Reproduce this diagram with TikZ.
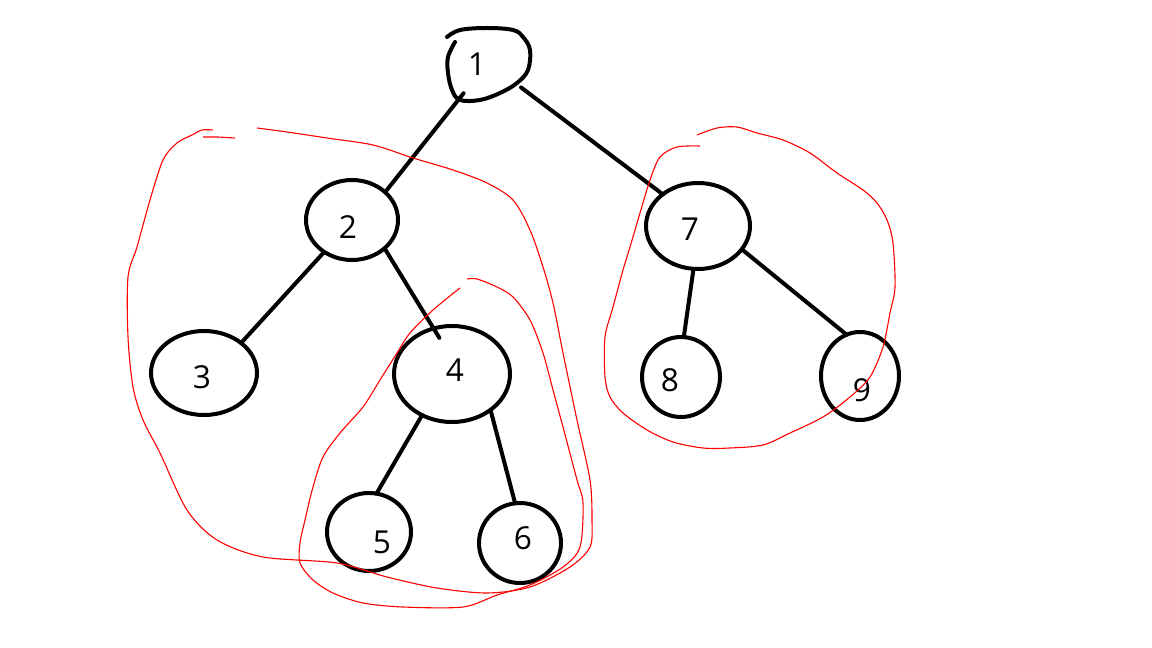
\documentclass[tikz,border=0pt]{standalone}
\usepackage{fontspec}
\setmainfont{Open Sans}
\newdimen\upx \upx=0.02cm
\tikzset{
  vertex/.style={draw=black, line width=4\upx, ellipse, inner sep=0pt, outer sep=0pt},
  ghost/.style={ellipse, inner sep=0pt, outer sep=0pt},
  digit/.style={inner sep=0pt, font=\fontsize{18}{20}\selectfont},
  edge/.style={draw=black, line width=4\upx, line cap=round},
  loop/.style={draw=red, line width=1.1\upx}
}
\usetikzlibrary{shapes.geometric}
\begin{document}
\begin{tikzpicture}[x=0.02cm, y=-0.02cm]
\useasboundingbox (0,0) rectangle (1152,648);
\fill[white] (0,0) rectangle (1152,648);

% node 1 (hand drawn blob)
\node[ghost, minimum width=82\upx, minimum height=72\upx] (n1) at (489,65) {};
\draw[line width=4\upx, line cap=round, line join=round] plot[smooth, tension=0.6] coordinates {
 (447,37) (460,30) (487,28) (513,30) (523,37) (530,50) (528,70) (517,83) (500,93) (480,100) (460,100) (452,90) (448,73) (448,57) (455,42)};
\node[digit] (t1) at (477,64) {1};

% other vertices
\node[vertex, minimum width=92\upx, minimum height=80\upx] (n2) at (352,220) {};
\node[vertex, minimum width=106\upx, minimum height=84\upx] (n3) at (204,373) {};
\node[vertex, minimum width=116\upx, minimum height=96\upx] (n4) at (452,374) {};
\node[vertex, minimum width=84\upx, minimum height=78\upx] (n5) at (369,532) {};
\node[vertex, minimum width=82\upx, minimum height=80\upx] (n6) at (520,543) {};
\node[vertex, minimum width=104\upx, minimum height=86\upx] (n7) at (698,226) {};
\node[vertex, minimum width=78\upx, minimum height=80\upx] (n8) at (681,377) {};
\node[vertex, minimum width=78\upx, minimum height=88\upx] (n9) at (860,376) {};

\node[digit] (t2) at (348,227) {2};
\node[digit] (t3) at (202,377) {3};
\node[digit] (t4) at (455,370) {4};
\node[digit] (t5) at (382,542) {5};
\node[digit] (t6) at (523,538) {6};
\node[digit] (t7) at (690,229) {7};
\node[digit] (t8) at (670,380) {8};
\node[digit] (t9) at (862,390) {9};

% edges
\draw[edge] (n1.-132) -- (n2.40);
\draw[edge] (n1.-35) -- (n7.138);
\draw[edge] (n2.-131) -- (n3.39);
\draw[edge, shorten >=-11\upx] (n2.-41) -- (n4.112);
\draw[edge] (n4.-126) -- (n5.79);
\draw[edge] (n4.-43) -- (n6.97);
\draw[edge] (n7.-96) -- (n8.86);
\draw[edge] (n7.-28) -- (n9.108);

% red loops
\draw[loop] plot[smooth, tension=0.5] coordinates {
 (257,128) (287,132) (327,138) (373,145) (413,158) (453,170) (487,183) (513,200) (530,230)
 (543,267) (553,303) (563,353) (577,420) (590,480) (592,520) (590,547) (570,567) (530,587)
 (487,593) (437,588) (387,577) (337,563) (263,557) (217,540) (187,510) (160,453) (143,420)
 (133,387) (128,337) (128,277) (137,247) (150,200) (163,160) (177,143) (192,135) (202,130) (213,130)};
\draw[loop] (203,137) -- (218,137) -- (235,138);

\draw[loop] plot[smooth, tension=0.5] coordinates {
 (460,288) (433,310) (410,333) (397,353) (380,380) (363,407) (340,433) (323,457) (313,487)
 (305,520) (300,543) (300,563) (313,580) (333,593) (363,603) (403,607) (463,607) (497,595)
 (530,585) (563,567) (580,547) (583,503) (577,480) (563,427) (553,390) (543,353) (530,320)
 (513,297) (497,287) (477,279) (467,279)};

\draw[loop] plot[smooth, tension=0.5] coordinates {
 (697,135) (717,128) (737,127) (757,133) (783,140) (810,153) (837,173) (863,190) (877,203)
 (887,220) (893,243) (895,287) (890,313) (883,347) (870,377) (850,397) (823,417) (790,433)
 (763,445) (730,448) (703,448) (673,442) (647,430) (623,413) (610,397) (605,377) (605,337)
 (613,307) (623,270) (630,247) (640,213) (650,180) (660,157) (677,147) (700,146)};
\end{tikzpicture}
\end{document}
